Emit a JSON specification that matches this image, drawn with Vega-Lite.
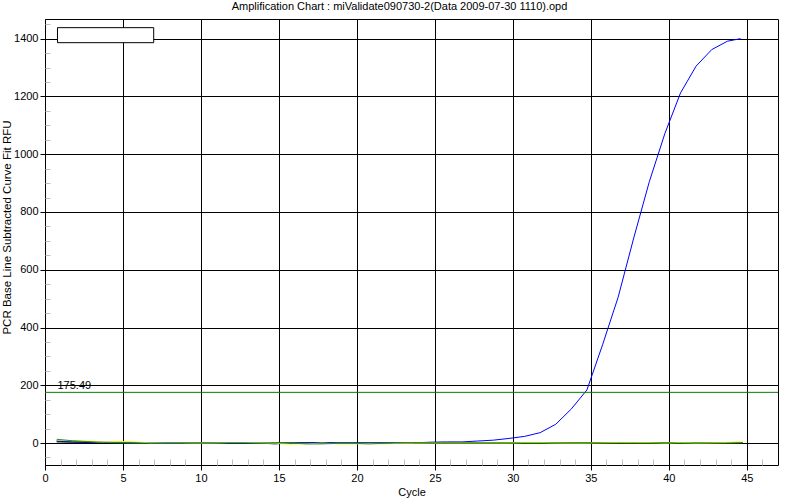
{
  "$schema": "https://vega.github.io/schema/vega-lite/v6.json",
  "autosize": {"type": "none"},
  "padding": {"left": 45, "top": 19, "right": 22, "bottom": 35},
  "width": 733,
  "height": 446,
  "background": "white",
  "title": {"text": "Amplification Chart : miValidate090730-2(Data 2009-07-30 1110).opd", "font": "Liberation Sans", "fontSize": 11, "fontWeight": "normal", "color": "black", "frame": "group", "anchor": "middle", "offset": 7, "dx": -12},
  "config": {
    "font": "Liberation Sans",
    "view": {"stroke": "black", "strokeWidth": 1},
    "axis": {"labelFont": "Liberation Sans", "titleFont": "Liberation Sans", "labelFontSize": 11, "titleFontSize": 11, "titleFontWeight": "normal", "labelColor": "black", "titleColor": "black", "tickColor": "black", "domain": false, "gridColor": "black", "gridOpacity": 1, "gridWidth": 1, "labelOverlap": false, "labelFlush": false}
  },
  "resolve": {"axis": {"x": "independent", "y": "independent"}},
  "layer": [
    {
      "data": {"values": [{"x0": 0.8, "x1": 6.97, "y0": 1438, "y1": 1386}]},
      "mark": {"type": "rect", "fill": "white", "stroke": "black", "strokeWidth": 1},
      "encoding": {
        "x": {"field": "x0", "type": "quantitative", "scale": {"domain": [0, 47], "nice": false, "zero": false}, "axis": {"orient": "bottom", "values": [1,2,3,4,6,7,8,9,11,12,13,14,16,17,18,19,21,22,23,24,26,27,28,29,31,32,33,34,36,37,38,39,41,42,43,44,46], "tickSize": -6, "tickColor": "#c0c0c0", "labels": false, "grid": false, "domain": false, "title": null}},
        "x2": {"field": "x1"},
        "y": {"field": "y0", "type": "quantitative", "scale": {"domain": [-76, 1468], "nice": false, "zero": false}, "axis": {"orient": "left", "values": [-50,50,100,150,250,300,350,450,500,550,650,700,750,850,900,950,1050,1100,1150,1250,1300,1350,1450], "tickSize": -5, "tickColor": "#c0c0c0", "labels": false, "grid": false, "domain": false, "title": null}},
        "y2": {"field": "y1"}
      }
    },
    {
      "data": {"values": [
        {"well":"k","cycle":0.75,"rfu":4},{"well":"k","cycle":1.75,"rfu":3},{"well":"k","cycle":2.75,"rfu":2},{"well":"k","cycle":3.75,"rfu":1},{"well":"k","cycle":4.75,"rfu":0},
        {"well":"k","cycle":5.75,"rfu":-1},{"well":"k","cycle":6.75,"rfu":-1},{"well":"k","cycle":7.75,"rfu":0},{"well":"k","cycle":8.75,"rfu":0},{"well":"k","cycle":9.75,"rfu":0},
        {"well":"k","cycle":10.75,"rfu":0},{"well":"k","cycle":11.75,"rfu":0},{"well":"k","cycle":12.75,"rfu":0},{"well":"k","cycle":13.75,"rfu":0},{"well":"k","cycle":14.75,"rfu":0},
        {"well":"k","cycle":15.75,"rfu":0},{"well":"k","cycle":16.75,"rfu":0},{"well":"k","cycle":17.75,"rfu":0},{"well":"k","cycle":18.75,"rfu":0},{"well":"k","cycle":19.75,"rfu":0},
        {"well":"k","cycle":20.75,"rfu":0},{"well":"k","cycle":21.75,"rfu":0},{"well":"k","cycle":22.75,"rfu":0},{"well":"k","cycle":23.75,"rfu":0},{"well":"k","cycle":24.75,"rfu":0},
        {"well":"k","cycle":25.75,"rfu":0},{"well":"k","cycle":26.75,"rfu":0},{"well":"k","cycle":27.75,"rfu":0},{"well":"k","cycle":28.75,"rfu":0},{"well":"k","cycle":29.75,"rfu":0},
        {"well":"k","cycle":30.75,"rfu":0},{"well":"k","cycle":31.75,"rfu":0},{"well":"k","cycle":32.75,"rfu":0},{"well":"k","cycle":33.75,"rfu":0},{"well":"k","cycle":34.75,"rfu":0},
        {"well":"k","cycle":35.75,"rfu":0},{"well":"k","cycle":36.75,"rfu":-1},{"well":"k","cycle":37.75,"rfu":-1},{"well":"k","cycle":38.75,"rfu":0},{"well":"k","cycle":39.75,"rfu":0},
        {"well":"k","cycle":40.75,"rfu":-1},{"well":"k","cycle":41.75,"rfu":0},{"well":"k","cycle":42.75,"rfu":0},{"well":"k","cycle":43.75,"rfu":-1},{"well":"k","cycle":44.75,"rfu":-1},

        {"well":"dg","cycle":0.75,"rfu":9},{"well":"dg","cycle":1.75,"rfu":6},{"well":"dg","cycle":2.75,"rfu":4},{"well":"dg","cycle":3.75,"rfu":2},{"well":"dg","cycle":4.75,"rfu":1},
        {"well":"dg","cycle":5.75,"rfu":1},{"well":"dg","cycle":6.75,"rfu":0},{"well":"dg","cycle":7.75,"rfu":0},{"well":"dg","cycle":8.75,"rfu":0},{"well":"dg","cycle":9.75,"rfu":0},
        {"well":"dg","cycle":10.75,"rfu":0},{"well":"dg","cycle":11.75,"rfu":0},{"well":"dg","cycle":12.75,"rfu":0},{"well":"dg","cycle":13.75,"rfu":0},{"well":"dg","cycle":14.75,"rfu":0},
        {"well":"dg","cycle":15.75,"rfu":1},{"well":"dg","cycle":16.75,"rfu":0},{"well":"dg","cycle":17.75,"rfu":0},{"well":"dg","cycle":18.75,"rfu":0},{"well":"dg","cycle":19.75,"rfu":0},
        {"well":"dg","cycle":20.75,"rfu":0},{"well":"dg","cycle":21.75,"rfu":0},{"well":"dg","cycle":22.75,"rfu":0},{"well":"dg","cycle":23.75,"rfu":0},{"well":"dg","cycle":24.75,"rfu":0},
        {"well":"dg","cycle":25.75,"rfu":0},{"well":"dg","cycle":26.75,"rfu":0},{"well":"dg","cycle":27.75,"rfu":0},{"well":"dg","cycle":28.75,"rfu":0},{"well":"dg","cycle":29.75,"rfu":0},
        {"well":"dg","cycle":30.75,"rfu":0},{"well":"dg","cycle":31.75,"rfu":0},{"well":"dg","cycle":32.75,"rfu":0},{"well":"dg","cycle":33.75,"rfu":0},{"well":"dg","cycle":34.75,"rfu":0},
        {"well":"dg","cycle":35.75,"rfu":1},{"well":"dg","cycle":36.75,"rfu":2},{"well":"dg","cycle":37.75,"rfu":1},{"well":"dg","cycle":38.75,"rfu":0},{"well":"dg","cycle":39.75,"rfu":0},
        {"well":"dg","cycle":40.75,"rfu":0},{"well":"dg","cycle":41.75,"rfu":0},{"well":"dg","cycle":42.75,"rfu":0},{"well":"dg","cycle":43.75,"rfu":2},{"well":"dg","cycle":44.75,"rfu":2},

        {"well":"b","cycle":0.75,"rfu":6},{"well":"b","cycle":1.75,"rfu":4},{"well":"b","cycle":2.75,"rfu":3},{"well":"b","cycle":3.75,"rfu":3},{"well":"b","cycle":4.75,"rfu":3},
        {"well":"b","cycle":5.75,"rfu":2},{"well":"b","cycle":6.75,"rfu":-1},{"well":"b","cycle":7.75,"rfu":-1},{"well":"b","cycle":8.75,"rfu":0},{"well":"b","cycle":9.75,"rfu":0},
        {"well":"b","cycle":10.75,"rfu":0},{"well":"b","cycle":11.75,"rfu":0},{"well":"b","cycle":12.75,"rfu":0},{"well":"b","cycle":13.75,"rfu":0},{"well":"b","cycle":14.75,"rfu":-3},
        {"well":"b","cycle":15.75,"rfu":0},{"well":"b","cycle":16.75,"rfu":1},{"well":"b","cycle":17.75,"rfu":2},{"well":"b","cycle":18.75,"rfu":0},{"well":"b","cycle":19.75,"rfu":0},
        {"well":"b","cycle":20.75,"rfu":0},{"well":"b","cycle":21.75,"rfu":0},{"well":"b","cycle":22.75,"rfu":0},{"well":"b","cycle":23.75,"rfu":1},{"well":"b","cycle":24.75,"rfu":3},
        {"well":"b","cycle":25.75,"rfu":4},{"well":"b","cycle":26.75,"rfu":4},{"well":"b","cycle":27.75,"rfu":7},{"well":"b","cycle":28.75,"rfu":10},{"well":"b","cycle":29.75,"rfu":16},
        {"well":"b","cycle":30.75,"rfu":23},{"well":"b","cycle":31.75,"rfu":36},{"well":"b","cycle":32.75,"rfu":65},{"well":"b","cycle":33.75,"rfu":118},{"well":"b","cycle":34.75,"rfu":184},
        {"well":"b","cycle":35.75,"rfu":340},{"well":"b","cycle":36.75,"rfu":505},{"well":"b","cycle":37.75,"rfu":710},{"well":"b","cycle":38.75,"rfu":905},{"well":"b","cycle":39.75,"rfu":1072},
        {"well":"b","cycle":40.75,"rfu":1212},{"well":"b","cycle":41.75,"rfu":1305},{"well":"b","cycle":42.75,"rfu":1362},{"well":"b","cycle":43.75,"rfu":1391},{"well":"b","cycle":44.6,"rfu":1400},

        {"well":"y","cycle":0.75,"rfu":10},{"well":"y","cycle":1.75,"rfu":8},{"well":"y","cycle":2.75,"rfu":7},{"well":"y","cycle":3.75,"rfu":3},{"well":"y","cycle":4.75,"rfu":5},
        {"well":"y","cycle":5.75,"rfu":4},{"well":"y","cycle":6.75,"rfu":1},{"well":"y","cycle":7.75,"rfu":1},{"well":"y","cycle":8.75,"rfu":1},{"well":"y","cycle":9.75,"rfu":0},
        {"well":"y","cycle":10.75,"rfu":0},{"well":"y","cycle":11.75,"rfu":2},{"well":"y","cycle":12.75,"rfu":2},{"well":"y","cycle":13.75,"rfu":1},{"well":"y","cycle":14.75,"rfu":-1},
        {"well":"y","cycle":15.75,"rfu":-4},{"well":"y","cycle":16.75,"rfu":-3},{"well":"y","cycle":17.75,"rfu":0},{"well":"y","cycle":18.75,"rfu":-3},{"well":"y","cycle":19.75,"rfu":-3},
        {"well":"y","cycle":20.75,"rfu":-2},{"well":"y","cycle":21.75,"rfu":-3},{"well":"y","cycle":22.75,"rfu":-1},{"well":"y","cycle":23.75,"rfu":0},{"well":"y","cycle":24.75,"rfu":0},
        {"well":"y","cycle":25.75,"rfu":0},{"well":"y","cycle":26.75,"rfu":0},{"well":"y","cycle":27.75,"rfu":0},{"well":"y","cycle":28.75,"rfu":0},{"well":"y","cycle":29.75,"rfu":0},
        {"well":"y","cycle":30.75,"rfu":2},{"well":"y","cycle":31.75,"rfu":2},{"well":"y","cycle":32.75,"rfu":0},{"well":"y","cycle":33.75,"rfu":0},{"well":"y","cycle":34.75,"rfu":0},
        {"well":"y","cycle":35.75,"rfu":1},{"well":"y","cycle":36.75,"rfu":2},{"well":"y","cycle":37.75,"rfu":2},{"well":"y","cycle":38.75,"rfu":2},{"well":"y","cycle":39.75,"rfu":0},
        {"well":"y","cycle":40.75,"rfu":2},{"well":"y","cycle":41.75,"rfu":0},{"well":"y","cycle":42.75,"rfu":1},{"well":"y","cycle":43.75,"rfu":2},{"well":"y","cycle":44.75,"rfu":4},

        {"well":"g","cycle":0.75,"rfu":13},{"well":"g","cycle":1.75,"rfu":8},{"well":"g","cycle":2.75,"rfu":5},{"well":"g","cycle":3.75,"rfu":2},{"well":"g","cycle":4.75,"rfu":1},
        {"well":"g","cycle":5.75,"rfu":0},{"well":"g","cycle":6.75,"rfu":0},{"well":"g","cycle":7.75,"rfu":1},{"well":"g","cycle":8.75,"rfu":1},{"well":"g","cycle":9.75,"rfu":0},
        {"well":"g","cycle":10.75,"rfu":0},{"well":"g","cycle":11.75,"rfu":1},{"well":"g","cycle":12.75,"rfu":1},{"well":"g","cycle":13.75,"rfu":0},{"well":"g","cycle":14.75,"rfu":0},
        {"well":"g","cycle":15.75,"rfu":1},{"well":"g","cycle":16.75,"rfu":-3},{"well":"g","cycle":17.75,"rfu":-3},{"well":"g","cycle":18.75,"rfu":-1},{"well":"g","cycle":19.75,"rfu":-1},
        {"well":"g","cycle":20.75,"rfu":-3},{"well":"g","cycle":21.75,"rfu":-1},{"well":"g","cycle":22.75,"rfu":0},{"well":"g","cycle":23.75,"rfu":2},{"well":"g","cycle":24.75,"rfu":0},
        {"well":"g","cycle":25.75,"rfu":0},{"well":"g","cycle":26.75,"rfu":0},{"well":"g","cycle":27.75,"rfu":0},{"well":"g","cycle":28.75,"rfu":0},{"well":"g","cycle":29.75,"rfu":0},
        {"well":"g","cycle":30.75,"rfu":0},{"well":"g","cycle":31.75,"rfu":0},{"well":"g","cycle":32.75,"rfu":0},{"well":"g","cycle":33.75,"rfu":1},{"well":"g","cycle":34.75,"rfu":1},
        {"well":"g","cycle":35.75,"rfu":0},{"well":"g","cycle":36.75,"rfu":0},{"well":"g","cycle":37.75,"rfu":0},{"well":"g","cycle":38.75,"rfu":0},{"well":"g","cycle":39.75,"rfu":1},
        {"well":"g","cycle":40.75,"rfu":0},{"well":"g","cycle":41.75,"rfu":0},{"well":"g","cycle":42.75,"rfu":0},{"well":"g","cycle":43.75,"rfu":0},{"well":"g","cycle":44.75,"rfu":1}
      ]},
      "mark": {"type": "line", "strokeWidth": 1, "clip": true},
      "encoding": {
        "x": {"field": "cycle", "type": "quantitative", "axis": {"orient": "bottom", "values": [0,5,10,15,20,25,30,35,40,45], "tickSize": 5, "labelPadding": 2, "grid": true, "title": "Cycle", "titlePadding": 3}},
        "y": {"field": "rfu", "type": "quantitative", "axis": {"orient": "left", "format": "d", "values": [0,200,400,600,800,1000,1200,1400], "tickSize": 5, "labelPadding": 2, "grid": true, "title": "PCR Base Line Subtracted Curve Fit RFU", "titleFontSize": 11.5, "titleX": -35, "titleY": 208, "titleBaseline": "alphabetic", "titleAlign": "center"}},
        "color": {"field": "well", "type": "nominal", "scale": {"domain": ["k", "dg", "b", "y", "g"], "range": ["#000000", "#005a00", "#0000ff", "#ffff00", "#2a8a2a"]}, "legend": null}
      }
    },
    {
      "data": {"values": [{"threshold": 175.49}]},
      "mark": {"type": "rule", "color": "#008000", "strokeWidth": 1},
      "encoding": {"y": {"field": "threshold", "type": "quantitative", "axis": null}}
    },
    {
      "data": {"values": [{"cycle": 0.8, "rfu": 175.49, "label": "175.49"}]},
      "mark": {"type": "text", "align": "left", "baseline": "alphabetic", "dy": -3, "fontSize": 11, "font": "Liberation Sans", "color": "black"},
      "encoding": {
        "x": {"field": "cycle", "type": "quantitative", "axis": null},
        "y": {"field": "rfu", "type": "quantitative", "axis": null},
        "text": {"field": "label"}
      }
    }
  ]
}
